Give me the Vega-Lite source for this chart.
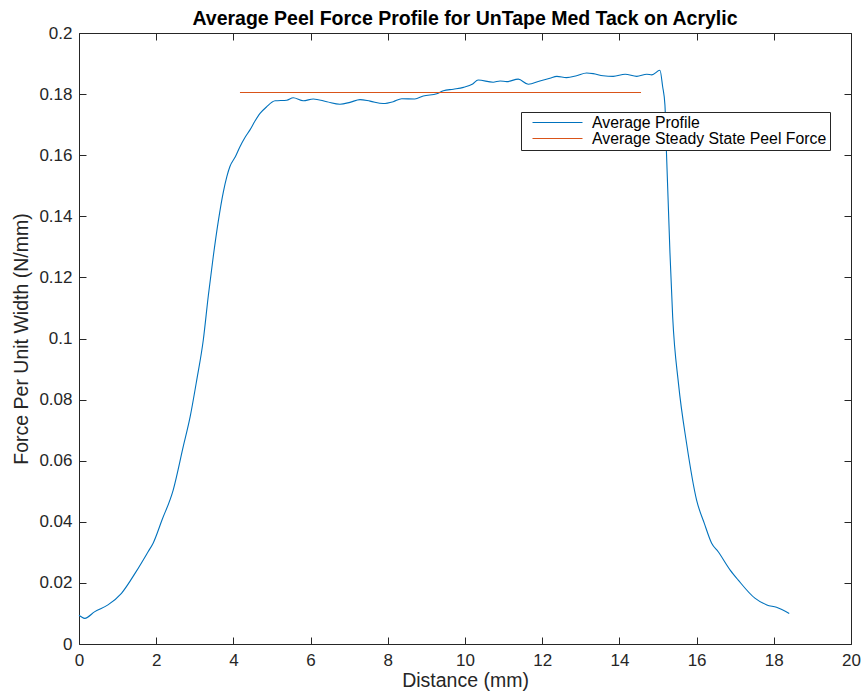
{
  "$schema": "https://vega.github.io/schema/vega-lite/v6.json",
  "width": 772,
  "height": 611,
  "autosize": {"type": "none"},
  "padding": {"left": 79, "top": 33, "right": 14, "bottom": 47},
  "background": "white",
  "title": {
    "text": "Average Peel Force Profile for UnTape Med Tack on Acrylic",
    "font": "Liberation Sans",
    "fontSize": 19.5,
    "fontWeight": "bold",
    "color": "#000000",
    "anchor": "middle",
    "offset": -5
  },
  "config": {
    "view": {"stroke": null},
    "axis": {
      "grid": false,
      "domainColor": "#262626",
      "tickColor": "#262626",
      "labelColor": "#262626",
      "titleColor": "#262626",
      "domainWidth": 1,
      "tickWidth": 1,
      "tickSize": -7,
      "labelFlush": false,
      "labelFont": "Liberation Sans",
      "labelFontSize": 17,
      "titleFont": "Liberation Sans",
      "titleFontSize": 19.5,
      "titleFontWeight": "normal"
    },
    "legend": {
      "orient": "none",
      "legendX": 442,
      "legendY": 79,
      "symbolType": "stroke",
      "symbolSize": 2500,
      "symbolStrokeWidth": 1,
      "clipHeight": 15,
      "rowPadding": -1,
      "labelFont": "Liberation Sans",
      "labelFontSize": 15.8,
      "labelColor": "#000000",
      "labelOffset": 9,
      "symbolOffset": 8,
      "fillColor": "white",
      "strokeColor": "#262626",
      "padding": 3,
      "labelLimit": 400
    }
  },
  "datasets": {
    "profile": [
      {"distance": 0.00, "force": 0.0094, "series": "Average Profile"},
      {"distance": 0.06, "force": 0.0089, "series": "Average Profile"},
      {"distance": 0.15, "force": 0.0084, "series": "Average Profile"},
      {"distance": 0.41, "force": 0.0106, "series": "Average Profile"},
      {"distance": 0.75, "force": 0.0128, "series": "Average Profile"},
      {"distance": 1.10, "force": 0.0166, "series": "Average Profile"},
      {"distance": 1.48, "force": 0.0237, "series": "Average Profile"},
      {"distance": 1.79, "force": 0.0302, "series": "Average Profile"},
      {"distance": 1.92, "force": 0.0330, "series": "Average Profile"},
      {"distance": 2.15, "force": 0.0406, "series": "Average Profile"},
      {"distance": 2.44, "force": 0.0504, "series": "Average Profile"},
      {"distance": 2.70, "force": 0.0646, "series": "Average Profile"},
      {"distance": 2.88, "force": 0.0744, "series": "Average Profile"},
      {"distance": 3.05, "force": 0.0864, "series": "Average Profile"},
      {"distance": 3.22, "force": 0.0995, "series": "Average Profile"},
      {"distance": 3.35, "force": 0.1140, "series": "Average Profile"},
      {"distance": 3.48, "force": 0.1270, "series": "Average Profile"},
      {"distance": 3.61, "force": 0.1385, "series": "Average Profile"},
      {"distance": 3.74, "force": 0.1480, "series": "Average Profile"},
      {"distance": 3.83, "force": 0.1530, "series": "Average Profile"},
      {"distance": 3.91, "force": 0.1563, "series": "Average Profile"},
      {"distance": 4.05, "force": 0.1595, "series": "Average Profile"},
      {"distance": 4.17, "force": 0.1628, "series": "Average Profile"},
      {"distance": 4.30, "force": 0.1658, "series": "Average Profile"},
      {"distance": 4.43, "force": 0.1683, "series": "Average Profile"},
      {"distance": 4.56, "force": 0.1712, "series": "Average Profile"},
      {"distance": 4.69, "force": 0.1737, "series": "Average Profile"},
      {"distance": 4.85, "force": 0.1757, "series": "Average Profile"},
      {"distance": 5.08, "force": 0.1778, "series": "Average Profile"},
      {"distance": 5.38, "force": 0.1780, "series": "Average Profile"},
      {"distance": 5.55, "force": 0.1788, "series": "Average Profile"},
      {"distance": 5.81, "force": 0.1778, "series": "Average Profile"},
      {"distance": 6.07, "force": 0.1784, "series": "Average Profile"},
      {"distance": 6.42, "force": 0.1775, "series": "Average Profile"},
      {"distance": 6.76, "force": 0.1767, "series": "Average Profile"},
      {"distance": 7.02, "force": 0.1773, "series": "Average Profile"},
      {"distance": 7.28, "force": 0.1782, "series": "Average Profile"},
      {"distance": 7.54, "force": 0.1777, "series": "Average Profile"},
      {"distance": 7.88, "force": 0.1769, "series": "Average Profile"},
      {"distance": 8.14, "force": 0.1775, "series": "Average Profile"},
      {"distance": 8.36, "force": 0.1785, "series": "Average Profile"},
      {"distance": 8.70, "force": 0.1784, "series": "Average Profile"},
      {"distance": 8.92, "force": 0.1794, "series": "Average Profile"},
      {"distance": 9.27, "force": 0.1801, "series": "Average Profile"},
      {"distance": 9.44, "force": 0.1811, "series": "Average Profile"},
      {"distance": 9.70, "force": 0.1816, "series": "Average Profile"},
      {"distance": 9.96, "force": 0.1822, "series": "Average Profile"},
      {"distance": 10.20, "force": 0.1833, "series": "Average Profile"},
      {"distance": 10.34, "force": 0.1846, "series": "Average Profile"},
      {"distance": 10.73, "force": 0.1839, "series": "Average Profile"},
      {"distance": 10.91, "force": 0.1843, "series": "Average Profile"},
      {"distance": 11.08, "force": 0.1841, "series": "Average Profile"},
      {"distance": 11.38, "force": 0.1849, "series": "Average Profile"},
      {"distance": 11.64, "force": 0.1832, "series": "Average Profile"},
      {"distance": 11.94, "force": 0.1843, "series": "Average Profile"},
      {"distance": 12.20, "force": 0.1852, "series": "Average Profile"},
      {"distance": 12.38, "force": 0.1858, "series": "Average Profile"},
      {"distance": 12.63, "force": 0.1854, "series": "Average Profile"},
      {"distance": 12.89, "force": 0.1860, "series": "Average Profile"},
      {"distance": 13.15, "force": 0.1869, "series": "Average Profile"},
      {"distance": 13.32, "force": 0.1867, "series": "Average Profile"},
      {"distance": 13.58, "force": 0.1860, "series": "Average Profile"},
      {"distance": 13.84, "force": 0.1858, "series": "Average Profile"},
      {"distance": 14.15, "force": 0.1865, "series": "Average Profile"},
      {"distance": 14.45, "force": 0.1858, "series": "Average Profile"},
      {"distance": 14.71, "force": 0.1865, "series": "Average Profile"},
      {"distance": 14.84, "force": 0.1863, "series": "Average Profile"},
      {"distance": 15.05, "force": 0.1878, "series": "Average Profile"},
      {"distance": 15.12, "force": 0.1825, "series": "Average Profile"},
      {"distance": 15.18, "force": 0.1764, "series": "Average Profile"},
      {"distance": 15.22, "force": 0.1606, "series": "Average Profile"},
      {"distance": 15.31, "force": 0.1280, "series": "Average Profile"},
      {"distance": 15.38, "force": 0.1071, "series": "Average Profile"},
      {"distance": 15.53, "force": 0.0853, "series": "Average Profile"},
      {"distance": 15.74, "force": 0.0657, "series": "Average Profile"},
      {"distance": 16.00, "force": 0.0471, "series": "Average Profile"},
      {"distance": 16.20, "force": 0.0395, "series": "Average Profile"},
      {"distance": 16.39, "force": 0.0330, "series": "Average Profile"},
      {"distance": 16.56, "force": 0.0302, "series": "Average Profile"},
      {"distance": 16.87, "force": 0.0242, "series": "Average Profile"},
      {"distance": 17.08, "force": 0.0209, "series": "Average Profile"},
      {"distance": 17.51, "force": 0.0150, "series": "Average Profile"},
      {"distance": 17.82, "force": 0.0128, "series": "Average Profile"},
      {"distance": 18.07, "force": 0.0120, "series": "Average Profile"},
      {"distance": 18.40, "force": 0.0100, "series": "Average Profile"}
    ],
    "steady": [
      {"distance": 4.17, "force": 0.1805, "series": "Average Steady State Peel Force"},
      {"distance": 14.56, "force": 0.1805, "series": "Average Steady State Peel Force"}
    ]
  },
  "layer": [
    {
      "data": {"name": "profile"},
      "mark": {"type": "line", "strokeWidth": 1.1, "interpolate": "monotone"},
      "encoding": {
        "x": {
          "field": "distance", "type": "quantitative",
          "scale": {"domain": [0, 20], "nice": false, "zero": false},
          "axis": {"orient": "bottom", "title": "Distance (mm)", "values": [0, 2, 4, 6, 8, 10, 12, 14, 16, 18, 20], "labelPadding": 15, "titlePadding": 3}
        },
        "y": {
          "field": "force", "type": "quantitative",
          "scale": {"domain": [0, 0.2], "nice": false},
          "axis": {"orient": "left", "title": "Force Per Unit Width (N/mm)", "values": [0, 0.02, 0.04, 0.06, 0.08, 0.1, 0.12, 0.14, 0.16, 0.18, 0.2], "format": "~g", "labelPadding": 14, "titlePadding": 7}
        },
        "color": {
          "field": "series", "type": "nominal",
          "scale": {"domain": ["Average Profile", "Average Steady State Peel Force"], "range": ["#0072BD", "#D95319"]},
          "legend": {"title": null}
        }
      }
    },
    {
      "data": {"name": "steady"},
      "mark": {"type": "line", "strokeWidth": 1.1},
      "encoding": {
        "x": {
          "field": "distance", "type": "quantitative",
          "axis": {"orient": "top", "title": null, "labels": false, "values": [0, 2, 4, 6, 8, 10, 12, 14, 16, 18, 20]}
        },
        "y": {
          "field": "force", "type": "quantitative",
          "axis": {"orient": "right", "title": null, "labels": false, "values": [0, 0.02, 0.04, 0.06, 0.08, 0.1, 0.12, 0.14, 0.16, 0.18, 0.2]}
        },
        "color": {"field": "series", "type": "nominal"}
      }
    }
  ],
  "resolve": {"axis": {"x": "independent", "y": "independent"}}
}
